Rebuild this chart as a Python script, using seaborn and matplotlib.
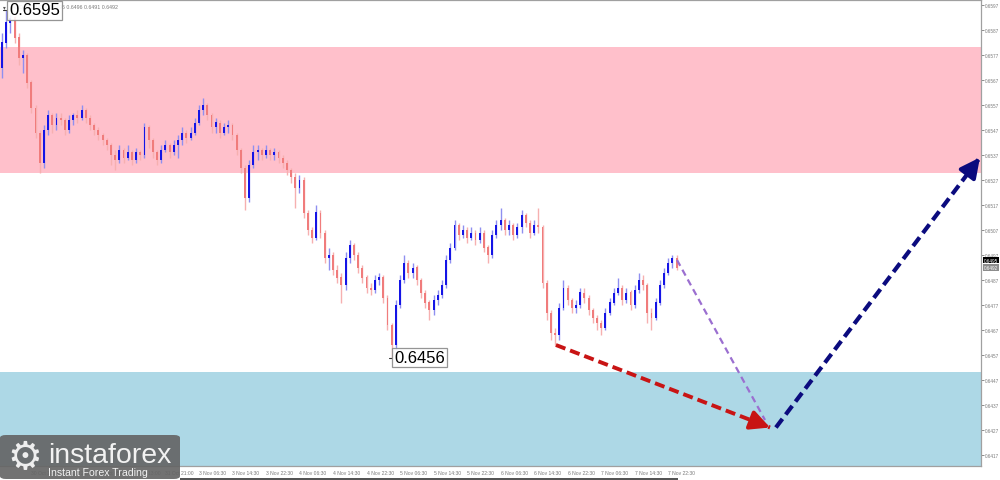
import matplotlib
matplotlib.use("Agg")
import matplotlib.pyplot as plt
import numpy as np
import pandas as pd
import seaborn as sns
from matplotlib.patches import FancyBboxPatch, Rectangle

# ------------------------------ data (prices in pips, 0.6595 -> 6595)

FIRST_OPEN = 6572
CLOSES = [
    6582, 6590, 6592, 6584, 6576, 6577, 6566, 6556, 6546, 6534,
    6547, 6553, 6549, 6552, 6551, 6547, 6551, 6553, 6552, 6555,
    6552, 6549, 6547, 6545, 6543, 6541, 6537, 6535, 6539, 6536,
    6538, 6535, 6538, 6537, 6548, 6543, 6538, 6535, 6539, 6541,
    6538, 6541, 6543, 6546, 6544, 6546, 6550, 6555, 6557, 6553,
    6548, 6550, 6546, 6548, 6549, 6545, 6539, 6532, 6520, 6533,
    6538, 6539, 6537, 6539, 6537, 6538, 6536, 6534, 6531, 6528,
    6524, 6527, 6514, 6507, 6504, 6514, 6506, 6496, 6497, 6491,
    6488, 6485, 6496, 6501, 6497, 6492, 6488, 6484, 6483, 6487,
    6488, 6480, 6469, 6461, 6477, 6487, 6494, 6490, 6492, 6487,
    6482, 6478, 6475, 6479, 6481, 6485, 6495, 6500, 6509, 6505,
    6507, 6504, 6506, 6503, 6506, 6500, 6497, 6505, 6509, 6511,
    6507, 6509, 6505, 6508, 6513, 6510, 6506, 6509, 6508, 6486,
    6474, 6466, 6465, 6476, 6484, 6479, 6476, 6477, 6482, 6480,
    6475, 6472, 6470, 6468, 6474, 6478, 6482, 6484, 6479, 6482,
    6477, 6483, 6487, 6485, 6474, 6472, 6478, 6485, 6490, 6494,
    6496, 6492,
]
HIGHS = [
    6586, 6595, 6593, 6593, 6586, 6579, 6578, 6567, 6557, 6547,
    6549, 6555, 6554, 6554, 6554, 6552, 6553, 6554, 6555, 6557,
    6556, 6553, 6550, 6548, 6546, 6544, 6542, 6539, 6541, 6540,
    6541, 6539, 6540, 6539, 6550, 6549, 6544, 6539, 6541, 6543,
    6542, 6543, 6545, 6548, 6547, 6548, 6552, 6557, 6560, 6558,
    6554, 6552, 6551, 6550, 6551, 6550, 6546, 6540, 6533, 6535,
    6541, 6541, 6540, 6541, 6540, 6540, 6539, 6537, 6535, 6532,
    6530, 6529, 6528, 6515, 6508, 6517, 6515, 6507, 6500, 6498,
    6493, 6490, 6498, 6503, 6502, 6498, 6493, 6489, 6486, 6489,
    6490, 6489, 6481, 6470, 6479, 6489, 6497, 6495, 6494, 6493,
    6488, 6483, 6479, 6481, 6483, 6487, 6497, 6502, 6511, 6510,
    6509, 6508, 6508, 6507, 6508, 6507, 6501, 6507, 6511, 6516,
    6512, 6511, 6510, 6510, 6515, 6514, 6511, 6511, 6516, 6509,
    6487, 6475, 6468, 6478, 6487, 6485, 6480, 6479, 6484, 6484,
    6481, 6476, 6473, 6471, 6476, 6480, 6484, 6488, 6485, 6484,
    6483, 6485, 6490, 6489, 6486, 6476, 6480, 6487, 6492, 6496,
    6497, 6497,
]
LOWS = [
    6568, 6580, 6586, 6582, 6573, 6570, 6564, 6554, 6544, 6530,
    6532, 6545, 6546, 6547, 6549, 6545, 6546, 6549, 6550, 6551,
    6550, 6547, 6545, 6543, 6541, 6539, 6533, 6531, 6534, 6534,
    6535, 6533, 6534, 6535, 6536, 6540, 6536, 6533, 6534, 6538,
    6536, 6537, 6536, 6541, 6542, 6543, 6545, 6549, 6553, 6551,
    6546, 6546, 6544, 6545, 6546, 6543, 6537, 6530, 6515, 6518,
    6532, 6535, 6535, 6536, 6535, 6535, 6534, 6532, 6529, 6526,
    6516, 6522, 6512, 6505, 6502, 6503, 6504, 6494, 6491, 6489,
    6486, 6478, 6483, 6494, 6495, 6490, 6486, 6482, 6481, 6482,
    6485, 6478, 6467, 6456, 6459, 6476, 6486, 6488, 6488, 6485,
    6480, 6476, 6471, 6473, 6477, 6480, 6484, 6494, 6499, 6503,
    6504, 6502, 6503, 6501, 6502, 6498, 6494, 6496, 6504, 6507,
    6505, 6505, 6503, 6504, 6506, 6508, 6504, 6505, 6506, 6484,
    6471, 6463, 6461, 6463, 6475, 6477, 6474, 6474, 6476, 6478,
    6473, 6470, 6467, 6465, 6467, 6473, 6477, 6481, 6477, 6478,
    6475, 6476, 6482, 6483, 6470, 6467, 6471, 6477, 6484, 6489,
    6492, 6491,
]

TICK_BARS = [7, 15, 23, 31, 39, 47, 55, 63, 71, 79, 87, 95, 103, 111, 119,
             127, 135, 143, 151, 159]
TICK_LABELS = [
    "30 Oct 13:00", "30 Oct 21:00", "31 Oct 05:00", "31 Oct 13:00", "31 Oct 21:00",
    "3 Nov 06:30", "3 Nov 14:30", "3 Nov 22:30", "4 Nov 06:30", "4 Nov 14:30",
    "4 Nov 22:30", "5 Nov 06:30", "5 Nov 14:30", "5 Nov 22:30", "6 Nov 06:30",
    "6 Nov 14:30", "6 Nov 22:30", "7 Nov 06:30", "7 Nov 14:30", "7 Nov 22:30",
]
PRICE_TICKS = [0.6417, 0.6427, 0.6437, 0.6447, 0.6457, 0.6467, 0.6477, 0.6487,
               0.6497, 0.6507, 0.6517, 0.6527, 0.6537, 0.6547, 0.6557, 0.6567,
               0.6577, 0.6587, 0.6597]

SELL_ZONE = (0.6530, 0.6580)
BUY_ZONE = (0.6400, 0.6450)

# projected path: (bar, price)
RED_PATH = [(132.2, 0.6461), (183.3, 0.6428)]
NAVY_PATH = [(184.7, 0.6428), (233.4, 0.6536)]
PURPLE_PATH = [(161.1, 0.6495), (182.1, 0.6431)]

HIGH_MARK = (1, 0.6595)
LOW_MARK = (93, 0.6456)
HEADER = "AUDUSD,M30  0.6496 0.6496 0.6491 0.6492"

# ------------------------------

BULL = "#1414e6"
BULL_WICK = "#8f8ff0"
BEAR = "#f07c7c"
BEAR_WICK = "#f6b0b0"
GREY = "#7a7a7a"

sns.set_style("white", {"axes.edgecolor": "#a0a0a0", "xtick.color": GREY,
                        "ytick.color": GREY})
plt.rcParams["font.family"] = ["Liberation Sans", "DejaVu Sans"]

W, H = 1000, 481
fig = plt.figure(figsize=(W / 100, H / 100), dpi=100)
ax = fig.add_axes([0, 14 / H, 981 / W, 466 / H])

opens = [FIRST_OPEN] + CLOSES[:-1]
df = pd.DataFrame({"open": opens, "high": HIGHS, "low": LOWS, "close": CLOSES}) / 10000
df["bar"] = np.arange(len(df))
df["high"] = df[["high", "open", "close"]].max(axis=1)
df["low"] = df[["low", "open", "close"]].min(axis=1)
bull = df["close"] >= df["open"]

ax.axhspan(*SELL_ZONE, color="#ffc0cb", lw=0, zorder=0)
ax.axhspan(*BUY_ZONE, color="#add8e6", lw=0, zorder=0)

ax.vlines(df["bar"], df["low"], df["high"],
          colors=np.where(bull, BULL_WICK, BEAR_WICK), lw=1, zorder=2)
body = (df["close"] - df["open"]).abs().clip(lower=0.00004)
ax.bar(df["bar"], body, bottom=df[["open", "close"]].min(axis=1), width=0.45,
       color=np.where(bull, BULL, BEAR), lw=0, zorder=3)


def projection(path, color, lw, dashes, head=True):
    seg = pd.DataFrame(path, columns=["bar", "price"])
    sns.lineplot(data=seg, x="bar", y="price", color=color, lw=lw, ax=ax,
                 dashes=False, zorder=5).lines[-1].set_dashes(dashes)
    if head:
        (x0, y0), (x1, y1) = path
        ax.annotate("", xy=(x1, y1), xytext=(x1 - (x1 - x0) * 0.06, y1 - (y1 - y0) * 0.06),
                    arrowprops=dict(arrowstyle="-|>,head_length=0.9,head_width=0.45",
                                    color=color, lw=lw, shrinkA=0, shrinkB=0,
                                    mutation_scale=13), zorder=6)


projection(PURPLE_PATH, "#9b6fd0", 1.6, (3, 2), head=False)
projection(RED_PATH, "#c81414", 2.8, (2.6, 1.3))
projection(NAVY_PATH, "#0b0b7e", 3.0, (2.6, 1.3))

# high / low labels
box = dict(boxstyle="square,pad=0.12", fc="white", ec="#8a8a8a", lw=0.9, alpha=0.9)
for (b, p) in (HIGH_MARK, LOW_MARK):
    ax.plot([b - 0.7, b], [p, p], color="#333333", lw=0.8, zorder=7)
    ax.annotate(f"{p:.4f}", xy=(b, p), xytext=(2, 0), textcoords="offset points",
                ha="left", va="center", fontsize=12, color="black", bbox=box, zorder=8)

ax.set_xlim(-0.48, 233.65)
ax.set_ylim(0.64126, 0.65990)

ax.yaxis.tick_right()
ax.set_yticks(PRICE_TICKS)
ax.set_yticklabels([f"{p:.4f}" for p in PRICE_TICKS])
ax.tick_params(axis="y", length=2, width=0.6, pad=0.8, labelsize=3.3, labelcolor=GREY)
ax.set_xticks(TICK_BARS)
ax.set_xticklabels(TICK_LABELS, ha="left")
ax.tick_params(axis="x", length=2, width=0.6, pad=1.2, labelsize=3.6, labelcolor=GREY)
ax.spines["left"].set_visible(False)
for s in ("right", "bottom", "top"):
    ax.spines[s].set_linewidth(0.9)
ax.set_xlabel("")
ax.set_ylabel("")

# current price boxes on the price scale
yt = ax.get_yaxis_transform()
ax.text(1.003, 0.6495, "0.6495", transform=yt, fontsize=3.3, color="white",
        va="center", ha="left", bbox=dict(boxstyle="square,pad=0.15", fc="black", lw=0),
        clip_on=False)
ax.text(1.003, 0.6492, "0.6492", transform=yt, fontsize=3.3, color="white",
        va="center", ha="left", bbox=dict(boxstyle="square,pad=0.15", fc="#8c8c8c", lw=0),
        clip_on=False)

ax.text(12 / 981, 0.992, HEADER, transform=ax.transAxes, fontsize=3.8, color=GREY,
        va="top", ha="left", zorder=4)
ax.text(3 / 981, 0.992, "▾", transform=ax.transAxes, fontsize=4, color="#555555",
        va="top", ha="left", family="DejaVu Sans")

# logo
fig.patches.append(FancyBboxPatch((0, 1 / H), 180 / W, 44 / H,
                                  boxstyle="round,pad=0,rounding_size=0.006",
                                  transform=fig.transFigure, fc="#636363", ec="none",
                                  alpha=0.9, zorder=10))
fig.text(25 / W, 1 - 458 / H, "⚙", fontsize=28, color="#eeeeee", ha="center",
         va="center", family="DejaVu Sans", zorder=11)
fig.text(48 / W, 1 - 463 / H, "instaforex", fontsize=20.5, color="#f2f2f2",
         ha="left", va="baseline", zorder=11)
fig.text(48 / W, 1 - 476 / H, "Instant Forex Trading", fontsize=7.6, color="#f2f2f2",
         ha="left", va="baseline", zorder=11)
fig.patches.append(Rectangle((180 / W, 0), 498 / W, 2 / H, transform=fig.transFigure,
                             fc="#555555", ec="none", zorder=10))

fig.savefig("out.png", dpi=100)
